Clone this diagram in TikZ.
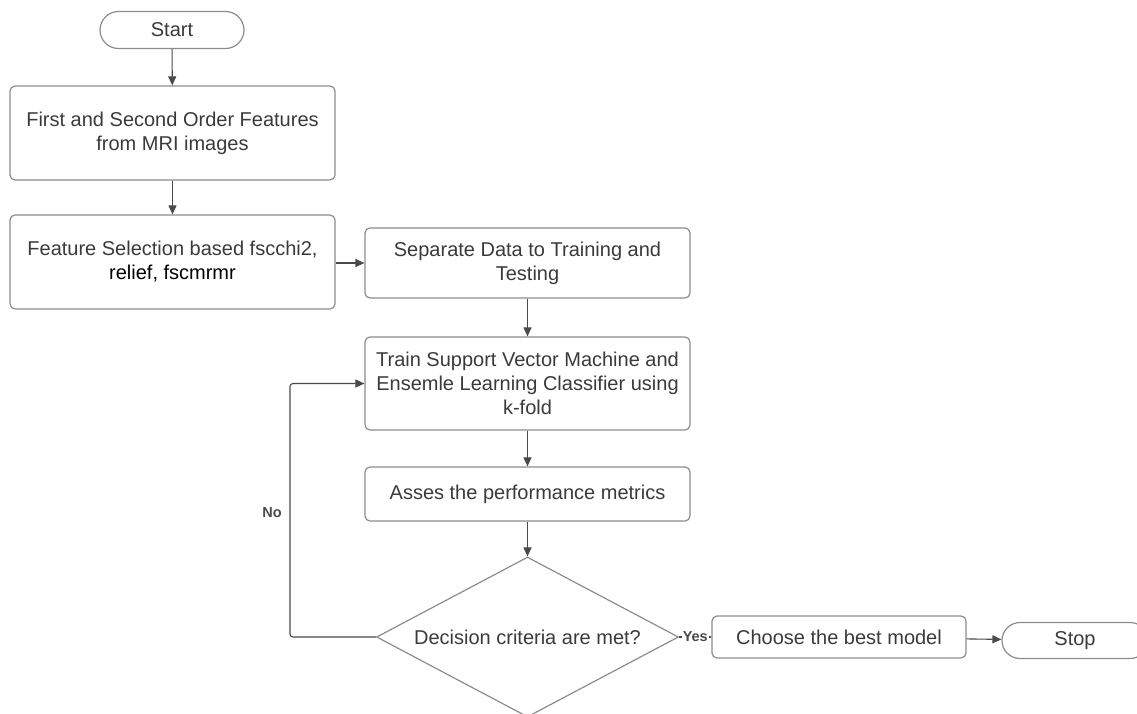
\documentclass[tikz,border=0pt]{standalone}
\usepackage{fontspec}
\setmainfont{Liberation Sans}
\usetikzlibrary{shapes.geometric,shapes.misc,arrows.meta}
\definecolor{boxline}{HTML}{8C8C8C}
\definecolor{arrline}{HTML}{4A4A4A}
\definecolor{txt}{HTML}{3A3A3A}
\tikzset{
  procbox/.style={draw=boxline, line width=1.2pt, rounded corners=5pt, align=center,
    text=txt, font=\fontsize{20}{24}\selectfont, inner sep=0pt},
  termbox/.style={draw=boxline, line width=1.2pt, rounded rectangle, align=center,
    text=txt, font=\fontsize{20}{24}\selectfont, inner sep=0pt},
  flow/.style={draw=arrline, line width=1.1pt, -{Triangle[length=9pt,width=8pt]}},
  answer/.style={text=arrline, font=\fontsize{14.5}{16}\bfseries\selectfont, inner sep=1pt}
}
\begin{document}
\begin{tikzpicture}[x=1pt,y=-1pt]
				\useasboundingbox (0,0) rectangle (1137,713);
				% Left column
				\node[termbox, minimum width=144pt, minimum height=37pt] (start) at (172,30) {Start};
				\node[procbox, minimum width=325pt, minimum height=94pt] (feat) at (172.5,133)
				{First and Second Order Features\\from MRI images};
				\node[procbox, minimum width=325pt, minimum height=94pt] (sel) at (172.5,262)
				{Feature Selection based fscchi2,\\\textcolor{black}{relief, fscmrmr}};
				% Middle column
				\node[procbox, minimum width=325pt, minimum height=70pt] (split) at (527.5,263)
				{Separate Data to Training and\\Testing};
				\node[procbox, minimum width=325pt, minimum height=93pt] (train) at (527.5,383.5)
				{Train Support Vector Machine and\\Ensemle Learning Classifier using\\k-fold};
				\node[procbox, minimum width=325pt, minimum height=54pt] (eval) at (527.5,494)
				{Asses the performance metrics};
				\node[procbox, diamond, rounded corners=0pt, aspect=1.9, minimum width=302pt,
				minimum height=160pt] (dec) at (527.5,637) {Decision criteria are met?};
				% Bottom row
				\node[procbox, minimum width=254pt, minimum height=42pt] (best) at (839,637)
				{Choose the best model};
				\node[termbox, minimum width=146pt, minimum height=36pt] (stop) at (1075,640.5) {Stop};
				% Connectors
				\draw[flow] (start) -- (feat);
				\draw[flow] (feat) -- (sel);
				\draw[flow] (sel.east |- split) -- (split);
				\draw[flow] (split) -- (train);
				\draw[flow] (train) -- (eval);
				\draw[flow] (eval) -- (dec);
				\coordinate (loop) at (290,637);
				\draw[flow, rounded corners=3pt] (dec.west) -- (loop) |- (train.west);
				\node[answer] (no) at (272,513) {No};
				\draw[draw=arrline, line width=1.1pt] (dec.east) -- (best.west)
				node[answer, midway, fill=white] (yes) {Yes};
				\draw[flow] (best) -- (stop);
			\end{tikzpicture}
\end{document}
